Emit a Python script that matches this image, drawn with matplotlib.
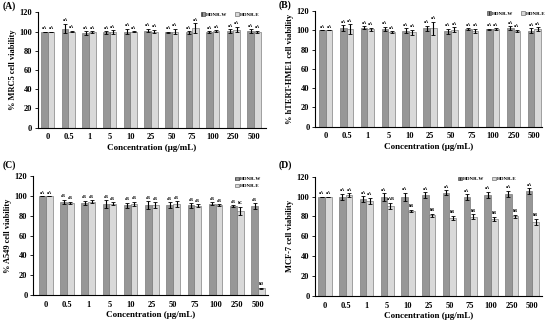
import matplotlib
matplotlib.use("Agg")
import matplotlib.pyplot as plt
from matplotlib.patches import Patch
import numpy as np

plt.rcParams['font.family'] = ['Liberation Serif', 'DejaVu Serif']
plt.rcParams['font.weight'] = 'bold'

conc = ["0", "0.5", "1", "5", "10", "25", "50", "75", "100", "250", "500"]
series_names = ["HDNR-W", "HDNR-E"]

# (A) MRC5
a_w = [100, 103, 98.5, 99, 100, 101, 99, 99, 99.5, 100.5, 100.5]
a_e = [100, 100, 99.5, 99.5, 100, 100, 100, 103.5, 100.5, 102, 99.5]
a_w_err = [0, 5, 2, 1.5, 3, 2, 1, 1.5, 1, 2, 2]
a_e_err = [0, 1, 1, 2, 0.5, 2, 3, 5, 1, 3, 1.5]
a_w_lab = ["aA"] * 11
a_e_lab = ["aA"] * 11

# (B) hTERT-HME1
b_w = [100, 102, 102.5, 101.5, 99.5, 102, 99, 101, 101, 102, 99.5]
b_e = [100, 101, 101, 98, 98, 102, 100.5, 99.5, 101, 99.5, 101]
b_w_err = [0, 3, 1.5, 2, 2.5, 2.5, 2.5, 1, 0.5, 2, 2.5]
b_e_err = [0, 5, 1.5, 1, 2.5, 7, 2.5, 2, 1, 1, 2]
b_w_lab = ["aA"] * 11
b_e_lab = ["aA"] * 11

# (C) A549
c_w = [100, 94.5, 93, 92, 90.5, 91, 91, 90.5, 92.5, 89.5, 90]
c_e = [100, 93, 94.5, 92.5, 92, 91, 92, 90, 90.5, 85, 7]
c_w_err = [0, 2, 2.5, 4, 3, 4, 3, 2.5, 1.5, 1, 3]
c_e_err = [0, 1.5, 1.5, 1.5, 2.5, 3, 3, 1.5, 1, 4, 0.5]
c_w_lab = ["aA"] + ["aB"] * 10
c_e_lab = ["aA"] + ["aB"] * 8 + ["bC", "bD"]

# (D) MCF-7
d_w = [100, 100, 97.5, 99.5, 100, 101.5, 104, 99.5, 102, 103, 105.5]
d_e = [100, 101.5, 96, 91, 85.5, 81, 78.5, 79.5, 77.5, 80, 74.5]
d_w_err = [0, 3, 3, 4, 4, 3, 2.5, 3, 3, 3, 3]
d_e_err = [0, 2, 3, 3, 1.5, 1.5, 2, 2.5, 2, 1.5, 3]
d_w_lab = ["aA"] * 11
d_e_lab = ["aA", "aA", "aA", "aAB"] + ["bB"] * 7

DARK = "#979797"
LIGHT = "#d9d9d9"
EDGE = "#666666"

fig = plt.figure(figsize=(5.5, 3.21), dpi=100)

panels = [
    dict(tag="(A)", ylabel="% MRC5 cell viability", w=a_w, e=a_e, we=a_w_err, ee=a_e_err,
         wl=a_w_lab, el=a_e_lab, rect=[37.7, 12.3, 266, 127.7], xlim=(-0.49, 10.58),
         tagpos=(3, 6), leg=dict(ncol=2, loc=(198, 13))),
    dict(tag="(B)", ylabel="% hTERT-HME1 cell viability", w=b_w, e=b_e, we=b_w_err, ee=b_e_err,
         wl=b_w_lab, el=b_e_lab, rect=[315, 11, 541.7, 126.7], xlim=(-0.51, 10.35),
         tagpos=(279, 5), leg=dict(ncol=2, loc=(484, 12))),
    dict(tag="(C)", ylabel="% A549 cell viability", w=c_w, e=c_e, we=c_w_err, ee=c_e_err,
         wl=c_w_lab, el=c_e_lab, rect=[33, 176.3, 268, 295], xlim=(-0.6, 10.47),
         tagpos=(3, 165), leg=dict(ncol=1, loc=(232, 177))),
    dict(tag="(D)", ylabel="MCF-7 cell viability", w=d_w, e=d_e, we=d_w_err, ee=d_e_err,
         wl=d_w_lab, el=d_e_lab, rect=[315, 176.7, 541.7, 296], xlim=(-0.48, 10.45),
         tagpos=(279, 165), leg=dict(ncol=2, loc=(455, 177))),
]

W, H = 550.0, 321.0
x = np.arange(len(conc))
bw = 0.32
ekw = dict(ecolor="black", elinewidth=0.8, capsize=1.2, capthick=0.6)

for p in panels:
    l, t, r, b = p["rect"]
    ax = fig.add_axes([l / W, 1 - b / H, (r - l) / W, (b - t) / H])
    ax.bar(x - bw / 2, p["w"], bw, color=DARK, edgecolor=EDGE, linewidth=0.4,
           yerr=p["we"], error_kw=ekw, label=series_names[0])
    ax.bar(x + bw / 2, p["e"], bw, color=LIGHT, edgecolor=EDGE, linewidth=0.4,
           yerr=p["ee"], error_kw=ekw, label=series_names[1])
    for i in range(len(conc)):
        ax.text(x[i] - bw / 2, p["w"][i] + p["we"][i] + 1.5, p["wl"][i], ha="center", va="bottom",
                fontsize=3, fontweight="bold")
        ax.text(x[i] + bw / 2, p["e"][i] + p["ee"][i] + 1.5, p["el"][i], ha="center", va="bottom",
                fontsize=3, fontweight="bold")
    ax.set_xlim(*p["xlim"])
    ax.set_ylim(0, 120)
    ax.set_yticks(range(0, 121, 20))
    ax.set_xticks(x)
    ax.set_xticklabels(conc)
    ax.tick_params(axis="both", labelsize=6, width=0.6, length=2, pad=2)
    ax.tick_params(axis="x", length=0, pad=4)
    for s in ["top", "right"]:
        ax.spines[s].set_visible(False)
    for s in ["left", "bottom"]:
        ax.spines[s].set_linewidth(0.8)
    for lab in ax.get_xticklabels() + ax.get_yticklabels():
        lab.set_fontweight("bold")
    ax.set_xlabel("Concentration (μg/mL)", fontsize=6.5, fontweight="bold", labelpad=2)
    ax.set_ylabel(p["ylabel"], fontsize=6, fontweight="bold", labelpad=2)
    fig.text(p["tagpos"][0] / W, 1 - p["tagpos"][1] / H, p["tag"], fontsize=7,
             fontweight="bold", va="center", ha="left")
    handles = [Patch(facecolor=DARK, edgecolor="#333333", linewidth=0.4, hatch="||||"),
               Patch(facecolor=LIGHT, edgecolor="#555555", linewidth=0.4)]
    lx, ly = p["leg"]["loc"]
    ax.legend(handles, series_names, ncol=p["leg"]["ncol"], frameon=False,
              handlelength=0.8, handleheight=0.8, handletextpad=0.3, columnspacing=1.5,
              labelspacing=0.5, borderpad=0, loc="upper left",
              bbox_to_anchor=(lx / W, 1 - (ly - 3) / H), bbox_transform=fig.transFigure,
              prop=dict(size=3.6, weight="bold"))

fig.savefig("out.png", dpi=100)
